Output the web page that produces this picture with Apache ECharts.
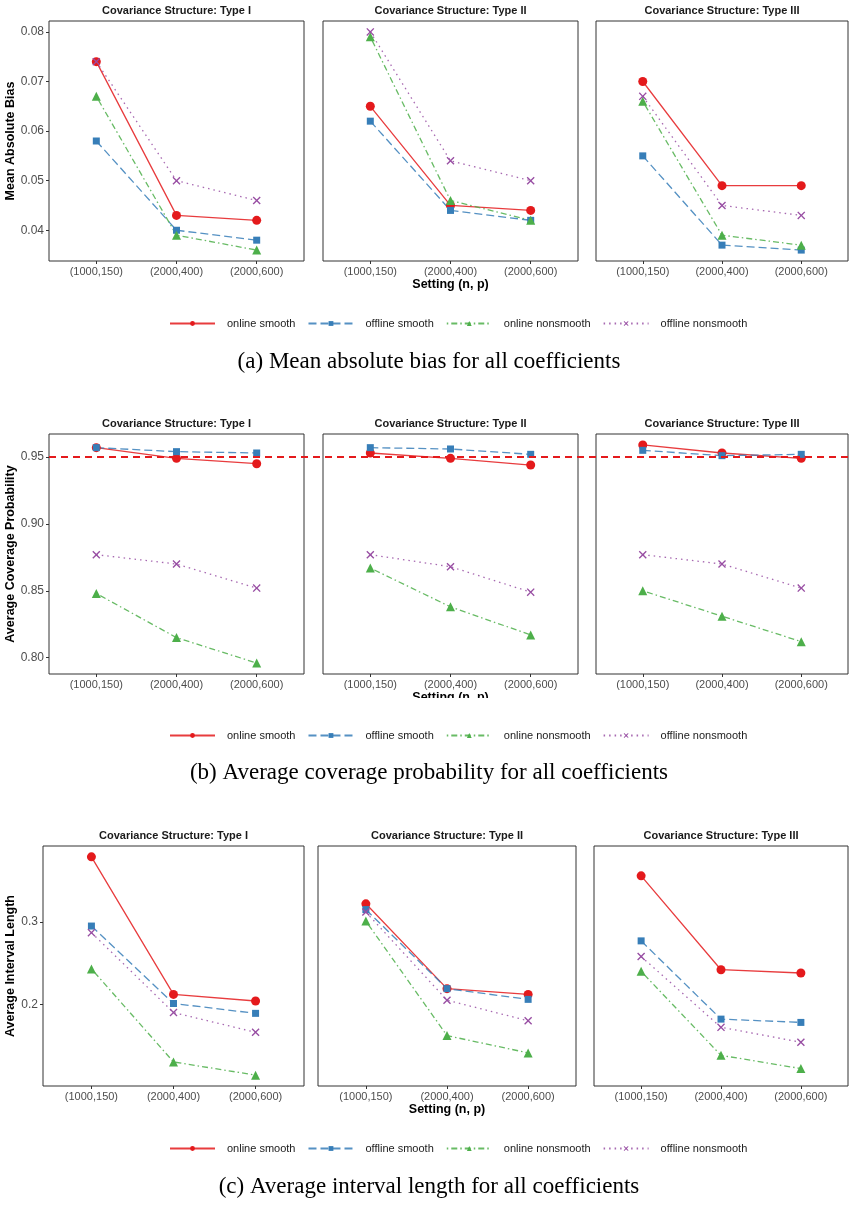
<!DOCTYPE html>
<html>
<head>
<meta charset="utf-8">
<script src="https://cdn.jsdelivr.net/npm/echarts@6/dist/echarts.min.js"></script>
<style>
html, body { margin: 0; padding: 0; background: #fff; }
#main { width: 859px; height: 1206px; }
</style>
</head>
<body>
<div id="main"></div>
<script>
var categories = ['(1000,150)', '(2000,400)', '(2000,600)'];
var panelTitles = ['Covariance Structure: Type I', 'Covariance Structure: Type II', 'Covariance Structure: Type III'];
var methods = ['online smooth', 'offline smooth', 'online nonsmooth', 'offline nonsmooth'];

// each array: one entry per covariance type (I, II, III), three settings each
var biasOnlineSmooth     = [[0.074, 0.043, 0.042], [0.065, 0.045, 0.044], [0.070, 0.049, 0.049]];
var biasOfflineSmooth    = [[0.058, 0.040, 0.038], [0.062, 0.044, 0.042], [0.055, 0.037, 0.036]];
var biasOnlineNonsmooth  = [[0.067, 0.039, 0.036], [0.079, 0.046, 0.042], [0.066, 0.039, 0.037]];
var biasOfflineNonsmooth = [[0.074, 0.050, 0.046], [0.080, 0.054, 0.050], [0.067, 0.045, 0.043]];

var coverOnlineSmooth     = [[0.957, 0.949, 0.945], [0.953, 0.949, 0.944], [0.959, 0.953, 0.949]];
var coverOfflineSmooth    = [[0.957, 0.954, 0.953], [0.957, 0.956, 0.952], [0.955, 0.951, 0.952]];
var coverOnlineNonsmooth  = [[0.848, 0.815, 0.796], [0.867, 0.838, 0.817], [0.850, 0.831, 0.812]];
var coverOfflineNonsmooth = [[0.877, 0.870, 0.852], [0.877, 0.868, 0.849], [0.877, 0.870, 0.852]];
var coverTarget = 0.95;

var lengthOnlineSmooth     = [[0.379, 0.212, 0.204], [0.322, 0.219, 0.212], [0.356, 0.242, 0.238]];
var lengthOfflineSmooth    = [[0.295, 0.201, 0.189], [0.315, 0.219, 0.206], [0.277, 0.182, 0.178]];
var lengthOnlineNonsmooth  = [[0.243, 0.130, 0.114], [0.301, 0.162, 0.141], [0.240, 0.138, 0.122]];
var lengthOfflineNonsmooth = [[0.287, 0.190, 0.166], [0.312, 0.205, 0.180], [0.258, 0.172, 0.154]];

var biasTicks = [0.04, 0.05, 0.06, 0.07, 0.08];
var coverTicks = [0.80, 0.85, 0.90, 0.95];
var lengthTicks = [0.2, 0.3];

var colors = ['#E41A1C', '#377EB8', '#4DAF4A', '#984EA3'];
var xShape = 'path://M0,1.2L1.2,0L5,3.8L8.8,0L10,1.2L6.2,5L10,8.8L8.8,10L5,6.2L1.2,10L0,8.8L3.8,5Z';
var symbols = ['circle', 'rect', 'triangle', xShape];
var symbolSizes = [9, 7, 9, 8];
var dashes = ['solid', [8, 4], [1.5, 3, 6, 3], [1.5, 4]];
var sansFont = '"Liberation Sans", Arial, sans-serif';

var rows = [
  { values: [biasOnlineSmooth, biasOfflineSmooth, biasOnlineNonsmooth, biasOfflineNonsmooth],
    yName: 'Mean Absolute Bias', min: 0.0338, max: 0.0822, ticks: biasTicks, digits: 2,
    top: 21, height: 240, lefts: [49, 323, 596], widths: [255, 255, 252], yNameGap: 31,
    legendTop: 313, caption: '(a) Mean absolute bias for all coefficients', captionY: 362 },
  { values: [coverOnlineSmooth, coverOfflineSmooth, coverOnlineNonsmooth, coverOfflineNonsmooth],
    yName: 'Average Coverage Probability', min: 0.7878, max: 0.9672, ticks: coverTicks, digits: 2,
    top: 434, height: 240, lefts: [49, 323, 596], widths: [255, 255, 252], yNameGap: 31,
    legendTop: 725, caption: '(b) Average coverage probability for all coefficients', captionY: 773 },
  { values: [lengthOnlineSmooth, lengthOfflineSmooth, lengthOnlineNonsmooth, lengthOfflineNonsmooth],
    yName: 'Average Interval Length', min: 0.1008, max: 0.3922, ticks: lengthTicks, digits: 1,
    top: 846, height: 240, lefts: [43, 318, 594], widths: [261, 258, 254], yNameGap: 25,
    legendTop: 1138, caption: '(c) Average interval length for all coefficients', captionY: 1187 }
];

var option = {
  animation: false,
  grid: [], xAxis: [], yAxis: [], series: [], legend: [], graphic: []
};

rows.forEach(function(row, r) {
  for (var c = 0; c < 3; c++) {
    var gi = r * 3 + c;
    option.grid.push({
      left: row.lefts[c], top: row.top, width: row.widths[c], height: row.height,
      show: true, borderColor: '#333', borderWidth: 1, backgroundColor: 'transparent'
    });
    option.xAxis.push({
      type: 'value', gridIndex: gi, min: -0.59, max: 2.59,
      axisLine: { show: false, onZero: false },
      splitLine: { show: false },
      axisTick: { show: true, length: 3, customValues: [0, 1, 2], lineStyle: { color: '#333' } },
      axisLabel: {
        customValues: [0, 1, 2], margin: 5, color: '#4d4d4d', fontSize: 11, fontFamily: sansFont,
        formatter: function(v) { return categories[Math.round(v)]; }
      },
      name: c == 1 ? 'Setting (n, p)' : '',
      nameLocation: 'middle', nameGap: 17,
      nameTextStyle: { fontWeight: 'bold', fontSize: 12.5, color: '#000', fontFamily: sansFont }
    });
    option.yAxis.push({
      type: 'value', gridIndex: gi, min: row.min, max: row.max,
      axisLine: { show: false, onZero: false },
      splitLine: { show: false },
      axisTick: { show: c == 0, length: 3, customValues: row.ticks, lineStyle: { color: '#333' } },
      axisLabel: {
        show: c == 0, customValues: row.ticks, margin: 5, color: '#4d4d4d', fontSize: 12, fontFamily: sansFont,
        formatter: (function(d) { return function(v) { return v.toFixed(d); }; })(row.digits)
      },
      name: c == 0 ? row.yName : '',
      nameLocation: 'middle', nameGap: row.yNameGap,
      nameTextStyle: { fontWeight: 'bold', fontSize: 12.5, color: '#000', fontFamily: sansFont }
    });
    for (var m = 0; m < 4; m++) {
      option.series.push({
        type: 'line', name: methods[m], xAxisIndex: gi, yAxisIndex: gi,
        data: row.values[m][c].map(function(v, i) { return [i, v]; }),
        symbol: symbols[m], symbolSize: symbolSizes[m],
        itemStyle: { color: colors[m], opacity: 1 },
        lineStyle: { color: colors[m], width: 1.3, type: dashes[m], opacity: 0.85 },
        emphasis: { disabled: true }
      });
    }
    option.graphic.push({
      type: 'text', x: row.lefts[c] + row.widths[c] / 2, y: row.top - 10,
      style: { text: panelTitles[c], textAlign: 'center', textVerticalAlign: 'middle',
               font: 'bold 11px ' + sansFont, fill: '#1a1a1a' }
    });
  }
  option.legend.push({
    data: methods, left: 164, top: row.legendTop, orient: 'horizontal',
    itemWidth: 45, itemHeight: 6, itemGap: 12,
    textStyle: { fontSize: 11, color: '#1a1a1a', fontFamily: sansFont, padding: [0, 0, 0, 7] }
  });
  option.graphic.push({
    type: 'text', x: 429, y: row.captionY,
    style: { text: row.caption, textAlign: 'center', textVerticalAlign: 'middle',
             font: '23px "Liberation Serif", "Times New Roman", serif', fill: '#000' }
  });
});

// reference line at nominal coverage across the whole middle row
option.grid.push({ left: 49, top: 434, width: 804, height: 240, show: false });
option.xAxis.push({ type: 'value', gridIndex: 9, min: 0, max: 1, show: false });
option.yAxis.push({ type: 'value', gridIndex: 9, min: rows[1].min, max: rows[1].max, show: false });
option.series.push({
  type: 'line', name: 'target', xAxisIndex: 9, yAxisIndex: 9, data: [],
  markLine: {
    silent: true, symbol: ['none', 'none'], label: { show: false },
    lineStyle: { color: '#E41A1C', type: [7, 5], width: 1.8 },
    data: [{ yAxis: coverTarget }]
  }
});

// the middle row's axis title is cut off by the legend area in the original
option.graphic.push({
  type: 'rect', shape: { x: 300, y: 698, width: 300, height: 16 },
  style: { fill: '#fff' }, z: 100
});

var chart = echarts.init(document.getElementById('main'));
chart.setOption(option);
</script>
</body>
</html>
